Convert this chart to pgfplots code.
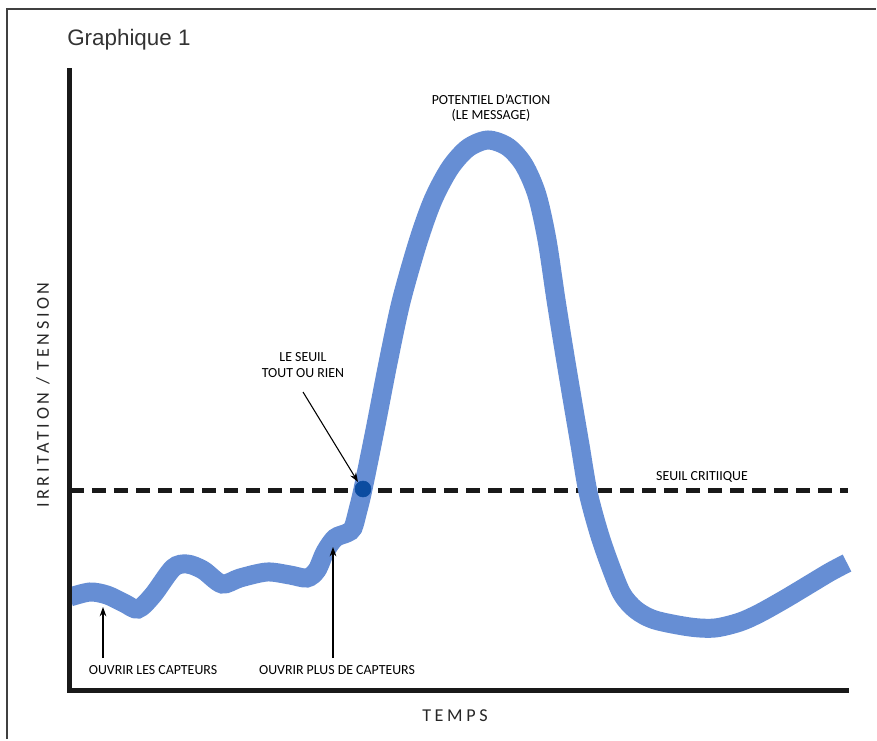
\documentclass[border=0pt]{standalone}
\usepackage{fontspec}
\setmainfont{Carlito}
\newfontfamily\titlefont{Liberation Sans}
\newfontfamily\spacedfont[LetterSpace=20]{Carlito}
\usepackage{pgfplots}
\pgfplotsset{compat=1.18}
\usetikzlibrary{arrows.meta}

\definecolor{curveblue}{RGB}{102,142,212}
\definecolor{dotblue}{RGB}{12,76,160}

\begin{document}
\begin{tikzpicture}
\begin{axis}[
    scale only axis,
    width=582pt, height=464.25pt,
    xmin=70, xmax=846, ymin=50, ymax=669,
    axis lines=left,
    x axis line style={-}, y axis line style={-},
    axis line style={line width=3.75pt, line cap=rect, black!90},
    xtick=\empty, ytick=\empty,
    axis on top=true,
    clip=false,
]
% page frame and size
\path (axis cs:0,0) rectangle (axis cs:877,740);
\draw[line width=0.9pt, black!75] (axis cs:7,1) -- (axis cs:7,731) -- (axis cs:876,731);

% critical threshold
\addplot[line width=3.75pt, black!90, dash pattern=on 10.5pt off 6pt] coordinates {(70,250) (848,250)};

% membrane response (x = pixel column, y = 740 - pixel row)
\addplot[smooth, tension=0.5, line width=14.25pt, curveblue, line cap=butt] coordinates {
(70,143) (90,148) (107,145) (124,137) (138,131) (153,145) (173,172) (187,176)
(203,170) (222,156) (240,162) (267,168) (290,165) (307,162) (317,170) (325,188)
(335,202) (347,207) (353,212) (358,230) (363,251) (375,310) (388,377) (401,438)
(418,498) (433,540) (450,572) (468,592) (488,600) (508,593) (524,575) (537,545)
(547,500) (556,440) (564,390) (572,342) (580,295) (588,248) (599,207) (610,175)
(622,146) (636,130) (655,120) (690,113) (715,112) (740,118) (760,127) (785,141)
(810,156) (830,168) (847,177)
};

% all-or-nothing point
\addplot[only marks, mark=*, mark size=6pt, dotblue, mark options={draw=dotblue, fill=dotblue}] coordinates {(363,251)};

% texts
\node[anchor=base west, inner sep=0pt, font=\titlefont\fontsize{16.8}{20}\selectfont, black!80] at (axis cs:67,694) {Graphique 1};
\node[rotate=90, font=\spacedfont\fontsize{13.6}{16}\selectfont, black!85] at (axis cs:43,345) {IRRITATION / TENSION};
\node[font=\spacedfont\fontsize{13.6}{16}\selectfont, black!85] at (axis cs:455,24) {TEMPS};

\node[font=\fontsize{10.4}{11}\selectfont] at (axis cs:153,70) {OUVRIR LES CAPTEURS};
\node[font=\fontsize{10.4}{11}\selectfont] at (axis cs:337,70) {OUVRIR PLUS DE CAPTEURS};
\node[font=\fontsize{10.4}{11.5}\selectfont, align=center] at (axis cs:303,375) {LE SEUIL\\TOUT OU RIEN};
\node[font=\fontsize{10.4}{11}\selectfont] at (axis cs:702,263) {SEUIL CRITIIQUE};
\node[font=\fontsize{10.4}{11.5}\selectfont, align=center] at (axis cs:491,632) {POTENTIEL D’ACTION\\(LE MESSAGE)};

% arrows
\draw[line width=0.8pt, -{Stealth[length=7pt, width=5pt]}] (axis cs:103,82) -- (axis cs:103,133);
\draw[line width=0.8pt, -{Stealth[length=7pt, width=5pt]}] (axis cs:333,82) -- (axis cs:333,193);
\draw[line width=0.8pt, -{Stealth[length=7pt, width=5pt]}] (axis cs:303,348) -- (axis cs:358,258);
\end{axis}
\end{tikzpicture}
\end{document}
